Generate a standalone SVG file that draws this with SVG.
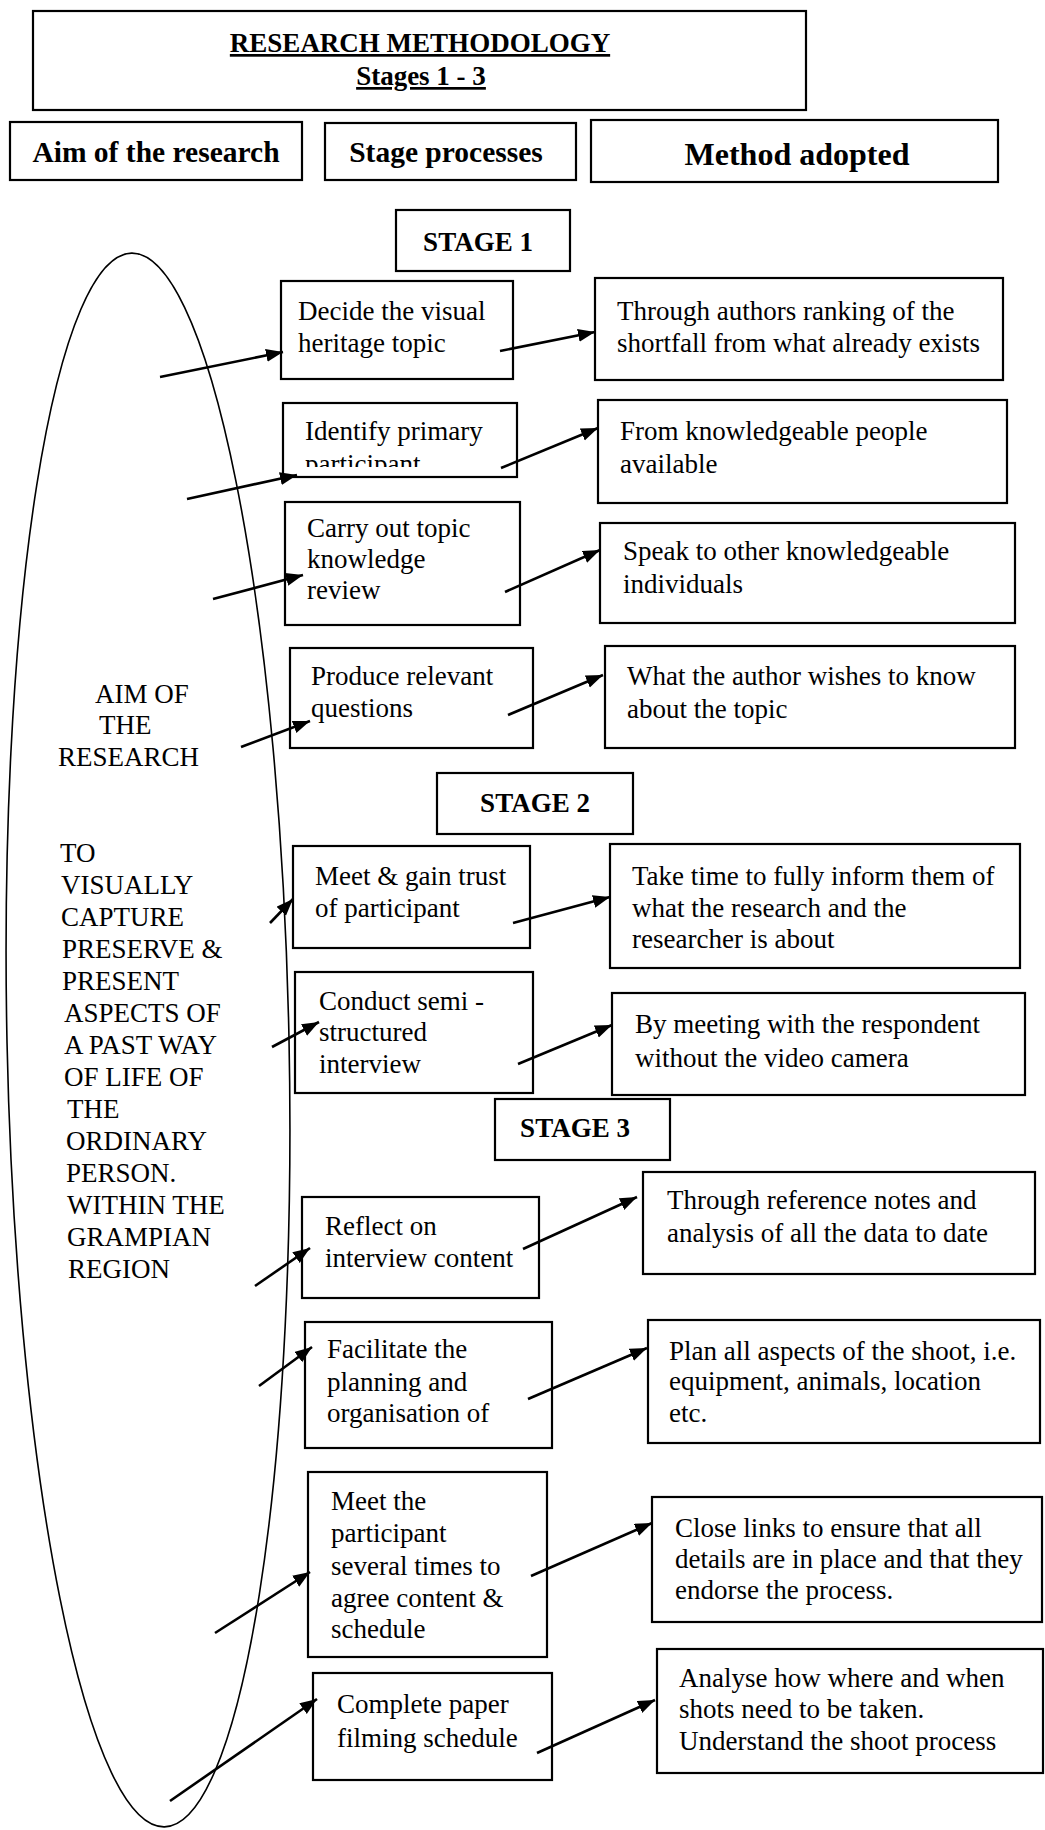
<svg xmlns="http://www.w3.org/2000/svg" width="1045" height="1830" viewBox="0 0 1045 1830">
<style>
.bg{fill:#fff}
.box{fill:#fff;stroke:#000;stroke-width:2.2}
.t{font-family:"Liberation Serif","Times New Roman",serif;font-size:27px;fill:#000}
.b{font-weight:bold}
.u{text-decoration:underline}
.c{text-anchor:middle}
.conn line{stroke:#000;stroke-width:2.6;fill:none;marker-end:url(#ah)}
.oval{fill:none;stroke:#000;stroke-width:1.6}
</style>
<defs>
<marker id="ah" markerUnits="userSpaceOnUse" markerWidth="20" markerHeight="14" refX="17" refY="6.5" orient="auto">
<path d="M0,0 L17,6.5 L0,13 Z" fill="#000"/>
</marker>
<clipPath id="clipId"><rect x="283" y="403" width="234" height="64"/></clipPath>
</defs>
<rect class="bg" x="0" y="0" width="1045" height="1830"/>

<g id="title">
<rect class="box" x="33" y="11" width="773" height="99"/>
<text class="t b u c" x="420" y="52">RESEARCH METHODOLOGY</text>
<text class="t b u c" x="421" y="85">Stages 1 - 3</text>
</g>

<g id="hdr-aim">
<rect class="box" x="10" y="122" width="292" height="58"/>
<text class="t b c" x="156" y="162" style="font-size:29.5px">Aim of the research</text>
</g>
<g id="hdr-stage">
<rect class="box" x="325" y="123" width="251" height="57"/>
<text class="t b c" x="446" y="162" style="font-size:29.5px">Stage processes</text>
</g>
<g id="hdr-method">
<rect class="box" x="591" y="120" width="407" height="62"/>
<text class="t b c" x="797" y="165" style="font-size:32px">Method adopted</text>
</g>

<g id="aim-oval">
<ellipse class="oval" cx="148" cy="1040" rx="141" ry="787" transform="rotate(-1.2 148 1040)"/>
<text class="t" x="95" y="703">AIM OF</text>
<text class="t" x="99" y="734">THE</text>
<text class="t" x="58" y="766">RESEARCH</text>
<text class="t" x="60" y="862">TO</text>
<text class="t" x="61" y="894">VISUALLY</text>
<text class="t" x="61" y="926">CAPTURE</text>
<text class="t" x="62" y="958">PRESERVE &amp;</text>
<text class="t" x="62" y="990">PRESENT</text>
<text class="t" x="64" y="1022">ASPECTS OF</text>
<text class="t" x="64" y="1054">A PAST WAY</text>
<text class="t" x="64" y="1086">OF LIFE OF</text>
<text class="t" x="67" y="1118">THE</text>
<text class="t" x="66" y="1150">ORDINARY</text>
<text class="t" x="66" y="1182">PERSON.</text>
<text class="t" x="67" y="1214">WITHIN THE</text>
<text class="t" x="67" y="1246">GRAMPIAN</text>
<text class="t" x="68" y="1278">REGION</text>
</g>

<g id="stage1">
<rect class="box" x="396" y="210" width="174" height="61"/>
<text class="t b c" x="478" y="251">STAGE 1</text>
</g>

<g id="decide">
<rect class="box" x="281" y="281" width="232" height="98"/>
<text class="t" x="298" y="320">Decide the visual</text>
<text class="t" x="298" y="352">heritage topic</text>
</g>
<g id="through-authors">
<rect class="box" x="595" y="278" width="408" height="102"/>
<text class="t" x="617" y="320">Through authors ranking of the</text>
<text class="t" x="617" y="352">shortfall from what already exists</text>
</g>

<g id="identify">
<rect class="box" x="283" y="403" width="234" height="74"/>
<text class="t" x="305" y="440">Identify primary</text>
<text class="t" x="305" y="473" clip-path="url(#clipId)">participant</text>
</g>
<g id="from-knowledgeable">
<rect class="box" x="598" y="400" width="409" height="103"/>
<text class="t" x="620" y="440">From knowledgeable people</text>
<text class="t" x="620" y="473">available</text>
</g>

<g id="carry-out">
<rect class="box" x="285" y="502" width="235" height="123"/>
<text class="t" x="307" y="537">Carry out topic</text>
<text class="t" x="307" y="568">knowledge</text>
<text class="t" x="307" y="599">review</text>
</g>
<g id="speak-to">
<rect class="box" x="600" y="523" width="415" height="100"/>
<text class="t" x="623" y="560">Speak to other knowledgeable</text>
<text class="t" x="623" y="593">individuals</text>
</g>

<g id="produce">
<rect class="box" x="290" y="648" width="243" height="100"/>
<text class="t" x="311" y="685">Produce relevant</text>
<text class="t" x="311" y="717">questions</text>
</g>
<g id="what-author">
<rect class="box" x="605" y="646" width="410" height="102"/>
<text class="t" x="627" y="685">What the author wishes to know</text>
<text class="t" x="627" y="718">about the topic</text>
</g>

<g id="stage2">
<rect class="box" x="437" y="773" width="196" height="61"/>
<text class="t b c" x="535" y="812">STAGE 2</text>
</g>

<g id="meet-gain">
<rect class="box" x="293" y="846" width="237" height="102"/>
<text class="t" x="315" y="885">Meet &amp; gain trust</text>
<text class="t" x="315" y="917">of participant</text>
</g>
<g id="take-time">
<rect class="box" x="610" y="844" width="410" height="124"/>
<text class="t" x="632" y="885">Take time to fully inform them of</text>
<text class="t" x="632" y="917">what the research and the</text>
<text class="t" x="632" y="948">researcher is about</text>
</g>

<g id="conduct">
<rect class="box" x="295" y="972" width="238" height="121"/>
<text class="t" x="319" y="1010">Conduct semi -</text>
<text class="t" x="319" y="1041">structured</text>
<text class="t" x="319" y="1073">interview</text>
</g>
<g id="by-meeting">
<rect class="box" x="612" y="993" width="413" height="102"/>
<text class="t" x="635" y="1033">By meeting with the respondent</text>
<text class="t" x="635" y="1067">without the video camera</text>
</g>

<g id="stage3">
<rect class="box" x="495" y="1099" width="175" height="61"/>
<text class="t b c" x="575" y="1137">STAGE 3</text>
</g>

<g id="reflect">
<rect class="box" x="302" y="1197" width="237" height="101"/>
<text class="t" x="325" y="1235">Reflect on</text>
<text class="t" x="325" y="1267">interview content</text>
</g>
<g id="through-reference">
<rect class="box" x="643" y="1172" width="392" height="102"/>
<text class="t" x="667" y="1209">Through reference notes and</text>
<text class="t" x="667" y="1242">analysis of all the data to date</text>
</g>

<g id="facilitate">
<rect class="box" x="305" y="1322" width="247" height="126"/>
<text class="t" x="327" y="1358">Facilitate the</text>
<text class="t" x="327" y="1391">planning and</text>
<text class="t" x="327" y="1422">organisation of</text>
</g>
<g id="plan-all">
<rect class="box" x="648" y="1320" width="392" height="123"/>
<text class="t" x="669" y="1360">Plan all aspects of the shoot, i.e.</text>
<text class="t" x="669" y="1390">equipment, animals, location</text>
<text class="t" x="669" y="1422">etc.</text>
</g>

<g id="meet-participant">
<rect class="box" x="308" y="1472" width="239" height="185"/>
<text class="t" x="331" y="1510">Meet the</text>
<text class="t" x="331" y="1542">participant</text>
<text class="t" x="331" y="1575">several times to</text>
<text class="t" x="331" y="1607">agree content &amp;</text>
<text class="t" x="331" y="1638">schedule</text>
</g>
<g id="close-links">
<rect class="box" x="652" y="1497" width="390" height="125"/>
<text class="t" x="675" y="1537">Close links to ensure that all</text>
<text class="t" x="675" y="1568">details are in place and that they</text>
<text class="t" x="675" y="1599">endorse the process.</text>
</g>

<g id="complete-paper">
<rect class="box" x="313" y="1673" width="239" height="107"/>
<text class="t" x="337" y="1713">Complete paper</text>
<text class="t" x="337" y="1747">filming schedule</text>
</g>
<g id="analyse">
<rect class="box" x="657" y="1649" width="386" height="124"/>
<text class="t" x="679" y="1687">Analyse how where and when</text>
<text class="t" x="679" y="1718">shots need to be taken.</text>
<text class="t" x="679" y="1750">Understand the shoot process</text>
</g>

<g id="connectors" class="conn">
<line x1="160" y1="377" x2="283" y2="352"/>
<line x1="500" y1="351" x2="595" y2="332"/>
<line x1="187" y1="499" x2="297" y2="475"/>
<line x1="501" y1="468" x2="598" y2="428"/>
<line x1="213" y1="599" x2="303" y2="575"/>
<line x1="505" y1="592" x2="600" y2="550"/>
<line x1="241" y1="747" x2="310" y2="721"/>
<line x1="508" y1="715" x2="603" y2="675"/>
<line x1="270" y1="923" x2="293" y2="899"/>
<line x1="513" y1="923" x2="610" y2="897"/>
<line x1="272" y1="1047" x2="319" y2="1022"/>
<line x1="518" y1="1064" x2="612" y2="1025"/>
<line x1="255" y1="1286" x2="310" y2="1248"/>
<line x1="523" y1="1249" x2="637" y2="1197"/>
<line x1="259" y1="1386" x2="312" y2="1347"/>
<line x1="528" y1="1399" x2="647" y2="1348"/>
<line x1="215" y1="1633" x2="310" y2="1572"/>
<line x1="531" y1="1576" x2="652" y2="1523"/>
<line x1="170" y1="1801" x2="317" y2="1699"/>
<line x1="537" y1="1753" x2="655" y2="1700"/>
</g>
</svg>
